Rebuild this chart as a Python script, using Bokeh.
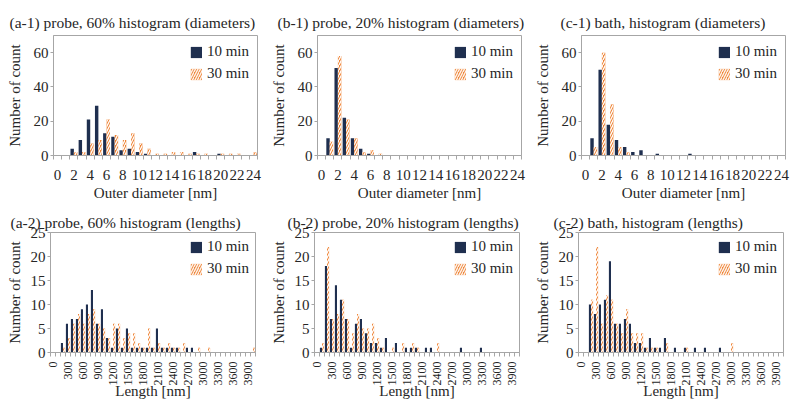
import math
from bokeh.plotting import figure
from bokeh.layouts import column, row
from bokeh.models import ColumnDataSource, Range1d, FixedTicker
from bokeh.transform import dodge
from bokeh.embed import file_html
from bokeh.resources import INLINE

# ---------------- data ----------------
diam_bins = list(range(0, 25))            # outer diameter bins [nm]
diam_ticks = list(range(0, 25, 2))
len_bins = list(range(0, 4001, 100))      # length bins [nm]
len_ticks = list(range(0, 3901, 300))
diam_yticks = [0, 20, 40, 60]
len_yticks = [0, 5, 10, 15, 20, 25]

a1_10 = [0, 0, 4, 9, 21, 29, 13, 11, 3, 4, 2, 1, 0, 0, 0, 0, 0, 2, 0, 0, 1, 0, 0, 0, 0]
a1_30 = [0, 0, 2, 2, 7, 9, 21, 12, 9, 13, 7, 4, 1, 1, 2, 2, 1, 1, 1, 0, 1, 1, 1, 0, 2]
b1_10 = [0, 10, 51, 22, 10, 4, 1, 0, 0, 0, 0, 0, 0, 0, 0, 0, 0, 0, 0, 0, 0, 0, 0, 0, 0]
b1_30 = [0, 8, 58, 21, 10, 2, 3, 1, 0, 0, 0, 0, 0, 0, 0, 0, 0, 0, 0, 0, 0, 0, 0, 0, 0]
c1_10 = [0, 10, 50, 18, 9, 5, 2, 3, 0, 1, 0, 0, 0, 1, 0, 0, 0, 0, 0, 0, 0, 0, 0, 0, 0]
c1_30 = [0, 5, 60, 30, 5, 2, 0, 0, 0, 0, 0, 0, 0, 0, 0, 0, 0, 0, 0, 0, 0, 0, 0, 0, 0]

a2_10 = [0, 0, 2, 6, 7, 7, 9, 10, 13, 6, 9, 3, 1, 5, 1, 5, 1, 1, 1, 1, 1, 5, 1, 1, 1, 1,
         0, 1, 1, 0, 0, 0, 0, 0, 0, 0, 0, 0, 0, 0, 0]
a2_30 = [0, 0, 1, 3, 6, 8, 6, 8, 9, 6, 5, 3, 6, 6, 3, 4, 4, 2, 1, 5, 1, 2, 1, 2, 1, 1,
         2, 0, 0, 1, 0, 1, 0, 0, 0, 0, 0, 0, 0, 0, 1]
b2_10 = [0, 1, 18, 7, 14, 11, 7, 1, 6, 7, 4, 2, 2, 1, 3, 0, 2, 0, 1, 1, 1, 0, 1, 1, 0, 0,
         0, 0, 0, 1, 0, 0, 0, 1, 0, 0, 0, 0, 0, 0, 0]
b2_30 = [0, 2, 22, 7, 8, 11, 7, 4, 8, 5, 5, 6, 3, 1, 0, 1, 0, 2, 0, 2, 1, 0, 0, 0, 2, 0,
         0, 0, 0, 0, 0, 0, 0, 0, 0, 0, 0, 0, 0, 0, 0]
c2_10 = [0, 0, 10, 8, 10, 11, 19, 6, 6, 7, 6, 2, 2, 1, 3, 1, 1, 3, 0, 1, 0, 1, 0, 1, 0, 1,
         0, 0, 1, 0, 0, 0, 0, 0, 0, 0, 0, 0, 0, 0, 0]
c2_30 = [0, 0, 11, 22, 6, 12, 11, 6, 4, 9, 4, 4, 4, 1, 1, 1, 0, 2, 0, 0, 0, 1, 0, 0, 0, 0,
         0, 0, 0, 0, 2, 0, 0, 0, 0, 0, 0, 0, 0, 0, 0]

NAVY = "#1F2F4F"
ORANGE = "#EE8233"
GREY = "#A6A6A6"
TXT = "#262626"
FONT = "Liberation Serif"


def panel(title, bins, v10, v30, ticks, yend, yticks, xlabel, width, height,
          borders, toff, step, diam, lmargin, tstand):
    src = ColumnDataSource(dict(x=bins, t10=v10, t30=v30))
    lo = bins[0] - step / 2
    hi = bins[-1] + step / 2
    p = figure(width=width, height=height, x_range=Range1d(lo, hi),
               y_range=Range1d(0, yend), output_backend="svg",
               toolbar_location=None,
               min_border_left=borders[0], min_border_right=borders[1],
               min_border_top=borders[2], min_border_bottom=borders[3])
    bw = 0.42 * step
    p.vbar(x=dodge('x', -0.21 * step), top='t10', width=bw, source=src,
           fill_color=NAVY, line_color=None, legend_label="10 min")
    p.vbar(x=dodge('x', 0.21 * step), top='t30', width=bw, source=src,
           fill_color=ORANGE, line_color=None, hatch_pattern="/",
           hatch_color="white", hatch_scale=5, hatch_weight=1.3,
           legend_label="30 min")

    p.title.text = title
    p.title.align = "left"
    p.title.offset = toff
    p.title.text_font = FONT
    p.title.text_font_size = "15.5px"
    p.title.text_font_style = "normal"
    p.title.text_color = TXT
    p.title.standoff = tstand

    p.xgrid.visible = False
    p.ygrid.visible = False
    p.outline_line_color = GREY
    p.outline_line_width = 1
    p.background_fill_color = "white"
    p.border_fill_color = "white"

    minor = [b - step / 2 for b in bins] + [bins[-1] + step / 2]
    xa = p.xaxis[0]
    xa.ticker = FixedTicker(ticks=ticks, minor_ticks=minor)
    xa.axis_label = xlabel
    xa.axis_label_text_font = FONT
    xa.axis_label_text_font_size = "15px"
    xa.axis_label_text_font_style = "normal"
    xa.axis_label_text_color = TXT
    xa.major_label_text_font = FONT
    xa.major_label_text_color = TXT
    xa.axis_line_color = GREY
    xa.major_tick_line_color = None
    xa.major_tick_out = 0
    xa.major_tick_in = 0
    xa.minor_tick_line_color = GREY
    xa.minor_tick_out = 4
    xa.minor_tick_in = 0
    if diam:
        xa.major_label_text_font_size = "15px"
        xa.major_label_standoff = 10
        xa.axis_label_standoff = 2
    else:
        xa.major_label_text_font_size = "12px"
        xa.major_label_orientation = math.pi / 2
        xa.major_label_standoff = 5
        xa.axis_label_standoff = -6

    ya = p.yaxis[0]
    ya.ticker = FixedTicker(ticks=yticks)
    ya.axis_label = "Number of count"
    ya.axis_label_text_font = FONT
    ya.axis_label_text_font_size = "15px"
    ya.axis_label_text_font_style = "normal"
    ya.axis_label_text_color = TXT
    ya.major_label_text_font = FONT
    ya.major_label_text_font_size = "15px"
    ya.major_label_text_color = TXT
    ya.axis_line_color = GREY
    ya.major_tick_line_color = GREY
    ya.major_tick_out = 3
    ya.major_tick_in = 0
    ya.minor_tick_line_color = None
    ya.major_label_standoff = 2
    ya.axis_label_standoff = 8 if diam else 5

    lg = p.legend[0]
    lg.location = "top_right"
    lg.border_line_color = None
    lg.background_fill_alpha = 0
    lg.label_text_font = FONT
    lg.label_text_font_size = "15px"
    lg.label_text_color = TXT
    lg.glyph_width = 14
    lg.glyph_height = 14
    lg.label_height = 14
    lg.label_standoff = 4
    lg.spacing = 5
    lg.padding = 4
    lg.margin = lmargin
    return p


H1, H2 = 204, 204
p1 = panel("(a-1) probe, 60% histogram (diameters)", diam_bins, a1_10, a1_30,
           diam_ticks, 70, diam_yticks, "Outer diameter [nm]", 264, H1,
           (53, 7, 35, 49), -44, 1, True, 8, 10)
p2 = panel("(b-1) probe, 20% histogram (diameters)", diam_bins, b1_10, b1_30,
           diam_ticks, 70, diam_yticks, "Outer diameter [nm]", 264, H1,
           (53, 7, 35, 49), -40, 1, True, 8, 10)
p3 = panel("(c-1) bath, histogram (diameters)", diam_bins, c1_10, c1_30,
           diam_ticks, 70, diam_yticks, "Outer diameter [nm]", 264, H1,
           (53, 7, 35, 49), -21, 1, True, 8, 10)
p4 = panel("(a-2) probe, 60% histogram (lengths)", len_bins, a2_10, a2_30,
           len_ticks, 25, len_yticks, "Length [nm]", 264, H2,
           (50, 9, 28, 56), -40, 100, False, 6, 3)
p5 = panel("(b-2) probe, 20% histogram (lengths)", len_bins, b2_10, b2_30,
           len_ticks, 25, len_yticks, "Length [nm]", 264, H2,
           (50, 9, 28, 56), -27, 100, False, 6, 3)
p6 = panel("(c-2) bath, histogram (lengths)", len_bins, c2_10, c2_30,
           len_ticks, 25, len_yticks, "Length [nm]", 264, H2,
           (50, 9, 28, 56), -25, 100, False, 6, 3)

layout = column(row(p1, p2, p3), row(p4, p5, p6))
open("out.html", "w").write(file_html(layout, INLINE))
